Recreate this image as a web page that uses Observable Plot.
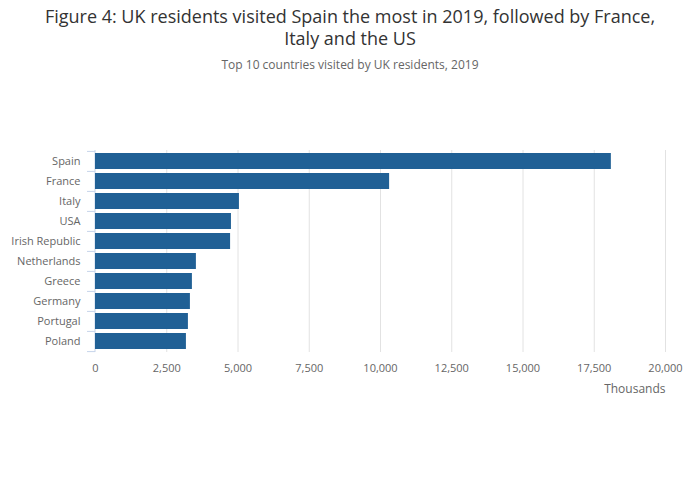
<!DOCTYPE html>
<html>
<head>
<meta charset="utf-8">
<script src="https://cdn.jsdelivr.net/npm/d3@7"></script>
<script src="https://cdn.jsdelivr.net/npm/@observablehq/plot@0.6"></script>
<style>
  body { margin: 0; background: #fff; font-family: "Open Sans", sans-serif; }
  #wrap { position: relative; width: 700px; height: 502px; }
  #title { position: absolute; top: 5px; left: 0; width: 700px; text-align: center; font-size: 18px; line-height: 22px; color: #333; }
  #subtitle { position: absolute; top: 56px; left: 0; width: 700px; text-align: center; font-size: 12px; color: #666; }
  svg { position: absolute; top: 0; left: 0; }
</style>
</head>
<body>
<div id="wrap">
  <div id="title">Figure 4: UK residents visited Spain the most in 2019, followed by France,<br>Italy and the US</div>
  <div id="subtitle">Top 10 countries visited by UK residents, 2019</div>
</div>
<script>
const countries = ["Spain", "France", "Italy", "USA", "Irish Republic", "Netherlands", "Greece", "Germany", "Portugal", "Poland"];
const visits = [18100, 10320, 5050, 4770, 4740, 3540, 3400, 3330, 3260, 3190];
const xTicks = [0, 2500, 5000, 7500, 10000, 12500, 15000, 17500, 20000];
const xLabel = "Thousands";

const data = countries.map((c, i) => ({country: c, value: visits[i]}));
const fmt = d3.format(",");

const chart = Plot.plot({
  width: 700,
  height: 502,
  marginTop: 150,
  marginBottom: 150,
  marginLeft: 95,
  marginRight: 35,
  style: { fontFamily: "Open Sans, sans-serif", fontSize: "11px", color: "#666", background: "transparent" },
  x: { domain: [0, 20000], ticks: xTicks },
  y: { domain: countries, paddingInner: 0.2, paddingOuter: 0.1, align: 0.5 },
  marks: [
    Plot.gridX(xTicks.filter(t => t > 0), { stroke: "#e2e2e2", strokeOpacity: 1 }),
    Plot.axisX({ ticks: xTicks, tickFormat: fmt, tickSize: 0, tickPadding: 12, label: null, fill: "#666" }),
    Plot.axisY({ tickSize: 0, tickPadding: 15, label: null, fill: "#666" }),
    Plot.axisY({ text: null, tickSize: 8, dy: -10.1, stroke: "#c6d4ea", label: null }),
    Plot.axisY({ ticks: [countries[countries.length - 1]], text: null, tickSize: 8, dy: 10.1, stroke: "#c6d4ea", label: null }),
    Plot.ruleX([0], { stroke: "#c6d4ea", dx: -0.5 }),
    Plot.barX(data, { y: "country", x: "value", fill: "#206095" }),
    Plot.text([xLabel], { frameAnchor: "bottom-right", text: d => d, dy: 40, textAnchor: "end", fontSize: 12, fill: "#666" })
  ]
});
document.getElementById("wrap").appendChild(chart);
</script>
</body>
</html>
